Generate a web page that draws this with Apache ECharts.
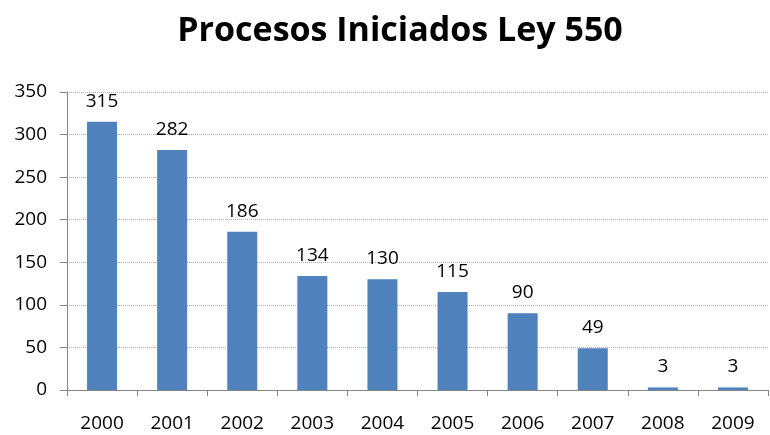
<!DOCTYPE html>
<html><head><meta charset="utf-8">
<script src="https://cdn.jsdelivr.net/npm/echarts@6/dist/echarts.min.js"></script>
<style>html,body{margin:0;padding:0;background:#fff}#c{width:770px;height:435px}</style>
</head><body><div id="c"></div>
<script>
const titleText = "Procesos Iniciados Ley 550";
const years = ["2000","2001","2002","2003","2004","2005","2006","2007","2008","2009"];
const values = [315, 282, 186, 134, 130, 115, 90, 49, 3, 3];
const yTicks = {min: 0, max: 350, interval: 50};
const FONT = "'Open Sans', 'Noto Sans', sans-serif";
const chart = echarts.init(document.getElementById('c'));
chart.setOption({
  animation: false,
  backgroundColor: '#fff',
  title: {text: titleText, left: 395, textAlign: 'center', top: 9,
    textStyle: {fontFamily: FONT, fontSize: 34, fontWeight: 'bold', color: '#000'}},
  grid: {left: 67, right: 2, top: 92, bottom: 45, containLabel: false},
  xAxis: {type: 'category', data: years,
    axisLine: {lineStyle: {color: '#868686', width: 1}},
    axisTick: {show: true, alignWithLabel: false, length: 6, lineStyle: {color: '#868686'}},
    axisLabel: {fontFamily: FONT, fontSize: 19, color: '#000', margin: 24}},
  yAxis: {type: 'value', min: yTicks.min, max: yTicks.max, interval: yTicks.interval,
    axisLine: {show: true, lineStyle: {color: '#868686', width: 1}},
    axisTick: {show: true, length: 7, lineStyle: {color: '#868686'}},
    axisLabel: {fontFamily: FONT, fontSize: 19, color: '#000', margin: 20},
    splitLine: {show: true, lineStyle: {color: '#b0b0b0', type: 'dotted', width: 1}}},
  series: [{type: 'bar', data: values, barWidth: 30,
    itemStyle: {color: '#4F81BD'},
    label: {show: true, position: 'top', distance: 11, fontFamily: FONT, fontSize: 19, color: '#000'}}]
});
</script></body></html>
